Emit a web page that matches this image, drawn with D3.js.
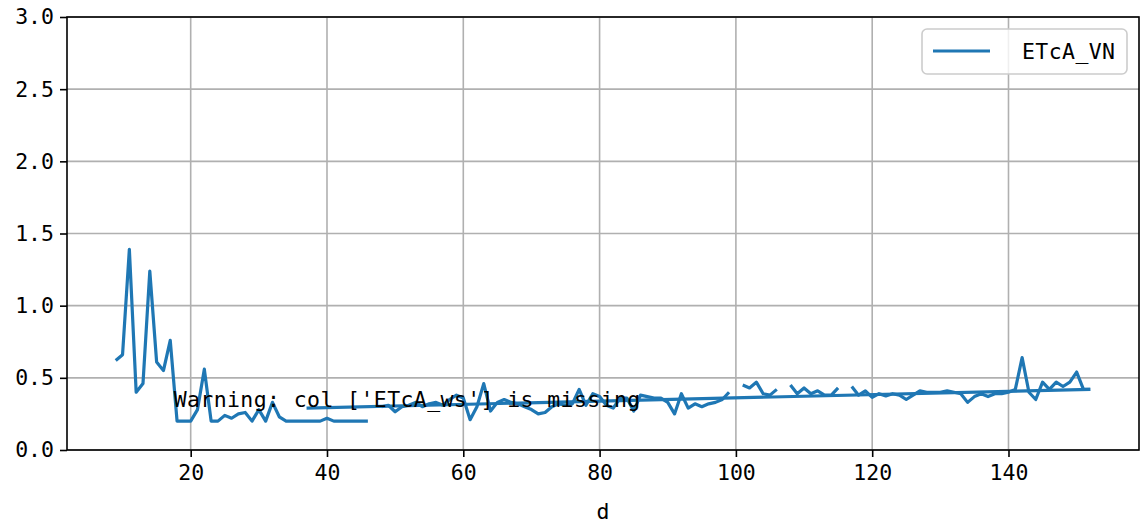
<!DOCTYPE html>
<html><head><meta charset="utf-8">
<script src="https://cdn.jsdelivr.net/npm/d3@7"></script>
<style>body{margin:0;background:#fff;} svg{display:block;}</style>
</head><body>
<svg id="chart" width="1141" height="523"></svg>
<script>
const days = d3.range(9, 153);
const etcaVN = [
 0.62,0.66,1.39,0.40,0.46,1.24,0.61,0.55,0.76,0.20, // 9-18
 0.20,0.20,0.28,0.56,0.20,0.20,0.24,0.22,0.25,0.26, // 19-28
 0.20,0.28,0.20,0.33,0.23,0.20,0.20,0.20,0.20,0.20, // 29-38
 0.20,0.22,0.20,0.20,0.20,0.20,0.20,0.20,null,0.30, // 39-48
 0.31,0.265,0.30,0.31,0.33,0.30,0.32,0.33,0.31,0.35, // 49-58
 0.38,0.36,0.21,0.30,0.46,0.27,0.33,0.35,0.33,0.32, // 59-68
 0.30,0.28,0.25,0.26,0.30,0.32,0.31,0.32,0.42,0.31, // 69-78
 0.39,0.37,0.31,0.29,0.36,0.36,0.27,0.38,0.37,0.36, // 79-88
 0.36,0.33,0.25,0.39,0.29,0.32,0.30,0.32,0.33,0.35, // 89-98
 0.40,null,0.45,0.43,0.47,0.39,0.38,0.42,null,0.45, // 99-108
 0.39,0.43,0.39,0.41,0.38,0.38,0.43,null,0.44,0.38, // 109-118
 0.41,0.365,0.39,0.375,0.39,0.38,0.35,0.38,0.41,0.40, // 119-128
 0.40,0.40,0.41,0.40,0.39,0.33,0.37,0.39,0.37,0.39, // 129-138
 0.39,0.40,0.42,0.64,0.40,0.35,0.47,0.42,0.47,0.44, // 139-148
 0.47,0.54,0.42,0.42                                  // 149-152
];
const trendX = [37, 152];
const trendY = [0.29, 0.42];
const xTicks = [20, 40, 60, 80, 100, 120, 140];
const yTicks = [0, 0.5, 1.0, 1.5, 2.0, 2.5, 3.0];
const seriesName = "ETcA_VN";
const warningText = "Warning: col ['ETcA_ws'] is missing";
const warnPos = [17.5, 0.3];

const svg = d3.select("#chart");
const L = 67, R = 1139, T = 17, B = 450;
const x = d3.scaleLinear().domain([1.85, 159.15]).range([L, R]);
const y = d3.scaleLinear().domain([0, 3]).range([B, T]);
const FONT = "'DejaVu Sans Mono', monospace";
const color = "#1f77b4";

// grid
svg.append("g").selectAll("line").data(xTicks).join("line")
  .attr("x1", d => x(d)).attr("x2", d => x(d)).attr("y1", T).attr("y2", B)
  .attr("stroke", "#b0b0b0").attr("stroke-width", 1.6);
svg.append("g").selectAll("line").data(yTicks).join("line")
  .attr("x1", L).attr("x2", R).attr("y1", d => y(d)).attr("y2", d => y(d))
  .attr("stroke", "#b0b0b0").attr("stroke-width", 1.6);

// lines
const data = days.map((d, i) => [d, etcaVN[i]]);
const line = d3.line().defined(d => d[1] != null).x(d => x(d[0])).y(d => y(d[1]));
svg.append("path").datum(data).attr("d", line)
  .attr("fill", "none").attr("stroke", color).attr("stroke-width", 3.2).attr("stroke-linejoin", "round");
const tdata = trendX.map((d, i) => [d, trendY[i]]);
svg.append("path").datum(tdata).attr("d", line)
  .attr("fill", "none").attr("stroke", color).attr("stroke-width", 3.2);

// warning text
svg.append("text").attr("x", x(warnPos[0])).attr("y", y(warnPos[1]))
  .attr("font-family", FONT).attr("font-size", 21.5).attr("letter-spacing", 0.4).attr("fill", "#000")
  .text(warningText);

// axes
const xAxis = d3.axisBottom(x).tickValues(xTicks).tickSize(7).tickPadding(8).tickFormat(d3.format("d"));
const yAxis = d3.axisLeft(y).tickValues(yTicks).tickSize(7).tickPadding(6).tickFormat(d3.format(".1f"));
const gx = svg.append("g").attr("transform", `translate(0,${B})`).call(xAxis);
const gy = svg.append("g").attr("transform", `translate(${L},0)`).call(yAxis);
[gx, gy].forEach(g => {
  g.select(".domain").remove();
  g.selectAll(".tick line").attr("stroke", "#000").attr("stroke-width", 1.6);
  g.selectAll(".tick text").attr("font-family", FONT).attr("font-size", 21.5).attr("fill", "#000");
});
// frame
svg.append("rect").attr("x", L).attr("y", T).attr("width", R - L).attr("height", B - T)
  .attr("fill", "none").attr("stroke", "#000").attr("stroke-width", 1.6);

// x label
svg.append("text").attr("x", (L + R) / 2).attr("y", 519).attr("text-anchor", "middle")
  .attr("font-family", FONT).attr("font-size", 21.5).text("d");

// legend
const lg = svg.append("g");
lg.append("rect").attr("x", 922).attr("y", 29).attr("width", 205).attr("height", 45).attr("rx", 5)
  .attr("fill", "#fff").attr("fill-opacity", 0.8).attr("stroke", "#cccccc").attr("stroke-width", 1.6);
lg.append("line").attr("x1", 933).attr("x2", 990).attr("y1", 51).attr("y2", 51)
  .attr("stroke", color).attr("stroke-width", 3.2);
lg.append("text").attr("x", 1022).attr("y", 59).attr("font-family", FONT).attr("font-size", 21.5)
  .attr("letter-spacing", 0.4).text(seriesName);
</script>
</body></html>
